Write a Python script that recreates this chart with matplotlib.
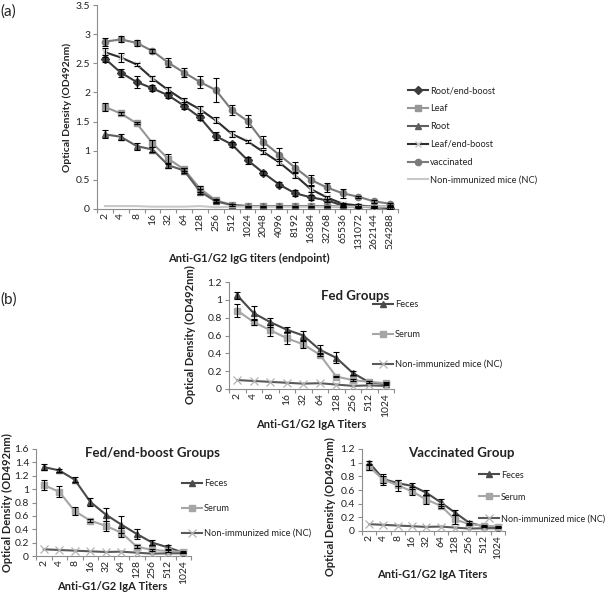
import numpy as np
import matplotlib
matplotlib.use('Agg')
import matplotlib.pyplot as plt

plt.rcParams['font.family'] = ['Lato', 'DejaVu Sans']

# ---------------- data: panel (a) ----------------
igg_titers = ['2', '4', '8', '16', '32', '64', '128', '256', '512', '1024', '2048', '4096',
              '8192', '16384', '32768', '65536', '131072', '262144', '524288']
root_end_boost = [2.58, 2.34, 2.18, 2.07, 1.95, 1.77, 1.57, 1.25, 1.11, 0.84, 0.62, 0.42,
                  0.27, 0.20, 0.15, 0.06, 0.04, 0.03, 0.02]
root_end_boost_err = [0.06, 0.07, 0.10, 0.05, 0.05, 0.06, 0.04, 0.07, 0.04, 0.06, 0.03, 0.04,
                      0.05, 0.04, 0.03, 0.02, 0.02, 0.02, 0.02]
leaf = [1.75, 1.64, 1.47, 1.13, 0.86, 0.68, 0.35, 0.15, 0.07, 0.05, 0.05, 0.05,
        0.05, 0.05, 0.05, 0.04, 0.04, 0.04, 0.04]
leaf_err = [0.07, 0.02, 0.02, 0.06, 0.08, 0.03, 0.05, 0.03, 0.01, 0.01, 0.01, 0.01,
            0.01, 0.01, 0.01, 0.01, 0.01, 0.01, 0.01]
root = [1.28, 1.24, 1.08, 1.02, 0.75, 0.66, 0.30, 0.13, 0.07, 0.05, 0.05, 0.05,
        0.05, 0.05, 0.05, 0.04, 0.04, 0.04, 0.04]
root_err = [0.07, 0.05, 0.06, 0.04, 0.04, 0.04, 0.05, 0.02, 0.01, 0.01, 0.01, 0.01,
            0.01, 0.01, 0.01, 0.01, 0.01, 0.01, 0.01]
leaf_end_boost = [2.69, 2.60, 2.48, 2.24, 2.04, 1.86, 1.71, 1.52, 1.29, 1.16, 0.98, 0.80,
                  0.58, 0.34, 0.20, 0.09, 0.06, 0.04, 0.02]
leaf_end_boost_err = [0.08, 0.07, 0.03, 0.04, 0.05, 0.05, 0.06, 0.05, 0.05, 0.03, 0.04, 0.05,
                      0.05, 0.05, 0.03, 0.02, 0.02, 0.02, 0.02]
vaccinated = [2.87, 2.91, 2.85, 2.71, 2.51, 2.34, 2.18, 2.04, 1.70, 1.51, 1.15, 0.93,
              0.71, 0.50, 0.37, 0.27, 0.21, 0.13, 0.09]
vaccinated_err = [0.07, 0.05, 0.05, 0.03, 0.08, 0.08, 0.10, 0.21, 0.09, 0.10, 0.11, 0.11,
                  0.10, 0.08, 0.07, 0.08, 0.02, 0.02, 0.02]
nc_igg = [0.05, 0.05, 0.05, 0.04, 0.04, 0.04, 0.05, 0.03, 0.04, 0.04, 0.04, 0.04,
          0.04, 0.04, 0.04, 0.04, 0.04, 0.04, 0.04]

# ---------------- data: panel (b) ----------------
iga_titers = ['2', '4', '8', '16', '32', '64', '128', '256', '512', '1024']

fed_feces = [1.05, 0.85, 0.75, 0.665, 0.60, 0.44, 0.35, 0.18, 0.075, 0.055]
fed_feces_err = [0.04, 0.08, 0.05, 0.03, 0.05, 0.05, 0.06, 0.02, 0.01, 0.01]
fed_serum = [0.88, 0.75, 0.66, 0.57, 0.50, 0.385, 0.14, 0.10, 0.08, 0.065]
fed_serum_err = [0.07, 0.03, 0.06, 0.07, 0.04, 0.02, 0.01, 0.01, 0.01, 0.01]
fed_nc = [0.10, 0.09, 0.08, 0.07, 0.06, 0.065, 0.05, 0.035, 0.04, 0.035]

feb_feces = [1.33, 1.28, 1.14, 0.81, 0.62, 0.47, 0.33, 0.20, 0.13, 0.05]
feb_feces_err = [0.05, 0.02, 0.04, 0.06, 0.10, 0.13, 0.07, 0.04, 0.03, 0.01]
feb_serum = [1.06, 0.96, 0.67, 0.53, 0.45, 0.35, 0.14, 0.09, 0.075, 0.06]
feb_serum_err = [0.07, 0.08, 0.06, 0.02, 0.07, 0.07, 0.02, 0.01, 0.01, 0.01]
feb_nc = [0.10, 0.09, 0.08, 0.07, 0.06, 0.065, 0.05, 0.035, 0.04, 0.04]

vac_feces = [1.00, 0.76, 0.70, 0.66, 0.56, 0.42, 0.27, 0.12, 0.07, 0.05]
vac_feces_err = [0.03, 0.08, 0.04, 0.04, 0.04, 0.05, 0.04, 0.02, 0.01, 0.01]
vac_serum = [0.94, 0.75, 0.67, 0.58, 0.46, 0.37, 0.17, 0.10, 0.08, 0.065]
vac_serum_err = [0.04, 0.05, 0.08, 0.06, 0.06, 0.03, 0.07, 0.01, 0.01, 0.01]
vac_nc = [0.10, 0.09, 0.08, 0.07, 0.06, 0.065, 0.05, 0.035, 0.04, 0.04]

# ---------------- layout helpers ----------------
W, H = 608, 592
fig = plt.figure(figsize=(W / 100, H / 100), dpi=100)

AX_COL = '#8c8c8c'
TXT = '#222222'
TICK_FS = 7.5
LAB_FS = 7.5

# size legend fonts from the width of the longest entry in the reference
_probe = fig.text(0, 0, 'Non-immunized mice (NC)', fontsize=10)
_w10 = _probe.get_window_extent(renderer=fig.canvas.get_renderer()).width
_probe.remove()


def leg_fs(width_px):
    return 10 * width_px / _w10


HANDLE_PX = 20


def box(x0, y0, x1, y1):
    return [x0 / W, 1 - y1 / H, (x1 - x0) / W, (y1 - y0) / H]


def fx(x):
    return x / W


def fy(y):
    return 1 - y / H


def style(ax, cats, ymax, ystep):
    n = len(cats)
    ax.set_xlim(-0.5, n - 0.5)
    ax.set_ylim(0, ymax)
    ax.set_xticks(range(n))
    ax.set_xticklabels(cats, rotation=90, fontsize=TICK_FS, color=TXT)
    ax.set_xticks(np.arange(-0.5, n, 1.0), minor=True)
    ax.tick_params(axis='x', which='major', length=0, pad=3)
    ax.tick_params(axis='x', which='minor', length=3, color=AX_COL, width=0.8)
    yt = np.round(np.arange(0, ymax + 1e-9, ystep), 3)
    ax.set_yticks(yt)
    ax.set_yticklabels([f'{v:g}' for v in yt], fontsize=TICK_FS, color=TXT)
    ax.tick_params(axis='y', length=3, color=AX_COL, width=0.8, pad=2)
    for s in ['top', 'right']:
        ax.spines[s].set_visible(False)
    for s in ['left', 'bottom']:
        ax.spines[s].set_color(AX_COL)
        ax.spines[s].set_linewidth(0.8)
    ax.set_facecolor('none')


def series(ax, y, err, color, marker, ms, label, mfc=None, mec=None, lw=1.5, mew=1.0):
    x = np.arange(len(y))
    ax.plot(x, y, color=color, lw=lw, marker=marker, ms=ms, mew=mew,
            mfc=mfc or color, mec=mec or color, label=label, zorder=3)
    if err is not None:
        ax.errorbar(x, y, yerr=err, fmt='none', ecolor='black', elinewidth=0.8,
                    capsize=2, capthick=0.8, zorder=4)


def legend(ax, x, ycenter_first, spacing_px, fs):
    fs_px = fs * 100 / 72
    ax.legend(loc='upper left', bbox_to_anchor=(fx(x), fy(ycenter_first - fs_px * 0.5)),
              bbox_transform=fig.transFigure, frameon=False, fontsize=fs,
              labelspacing=(spacing_px - fs_px) / fs_px,
              handlelength=HANDLE_PX / fs_px, handletextpad=2 / fs_px,
              borderpad=0, borderaxespad=0, labelcolor=TXT)


# ---------------- panel (a) ----------------
axa = fig.add_axes(box(97, 5, 398, 209))
style(axa, igg_titers, 3.5, 0.5)
series(axa, root_end_boost, root_end_boost_err, '#3c3c3c', 'D', 4, 'Root/end-boost')
series(axa, leaf, leaf_err, '#979797', 's', 4, 'Leaf')
series(axa, root, root_err, '#5e5e5e', '^', 5, 'Root')
series(axa, leaf_end_boost, leaf_end_boost_err, '#2e2e2e', 'x', 5, 'Leaf/end-boost',
       mec='#c4c4c4')
series(axa, vaccinated, vaccinated_err, '#7b7b7b', 'o', 4.5, 'vaccinated')
series(axa, nc_igg, None, '#c8c8c8', None, 0, 'Non-immunized mice (NC)')
legend(axa, 408, 91, 18.2, leg_fs(108))

fig.text(fx(67), fy(107), 'Optical Density (OD492nm)', rotation=90, ha='center', va='center',
         fontsize=LAB_FS, fontweight='bold', color=TXT)
fig.text(fx(249), fy(258), 'Anti-G1/G2 IgG titers (endpoint)', ha='center', va='center',
         fontsize=LAB_FS + 0.5, fontweight='bold', color=TXT)
fig.text(fx(0), fy(12), '(a)', ha='left', va='center', fontsize=11, color=TXT)
fig.text(fx(0), fy(300), '(b)', ha='left', va='center', fontsize=11, color=TXT)


# ---------------- panel (b) ----------------
def iga_panel(rect, ymax, feces, feces_err, serum, serum_err, nc, title, title_xy,
              leg_x, leg_first, leg_sp, leg_w, ylab_xy, xlab_xy):
    ax = fig.add_axes(box(*rect))
    style(ax, iga_titers, ymax, 0.2)
    series(ax, feces, feces_err, '#4a4a4a', '^', 5, 'Feces')
    series(ax, serum, serum_err, '#a6a6a6', 's', 5, 'Serum')
    series(ax, nc, None, '#5a5a5a', 'x', 5.5, 'Non-immunized mice (NC)', mec='#b4b4b4',
           mew=0.9)
    legend(ax, leg_x, leg_first, leg_sp, leg_fs(leg_w))
    fig.text(fx(title_xy[0]), fy(title_xy[1]), title, ha='center', va='center',
             fontsize=9.5, fontweight='bold', color=TXT)
    fig.text(fx(ylab_xy[0]), fy(ylab_xy[1]), 'Optical Density (OD492nm)', rotation=90,
             ha='center', va='center', fontsize=LAB_FS + 0.5, fontweight='bold', color=TXT)
    fig.text(fx(xlab_xy[0]), fy(xlab_xy[1]), 'Anti-G1/G2 IgA Titers', ha='center',
             va='center', fontsize=LAB_FS + 0.5, fontweight='bold', color=TXT)
    return ax


iga_panel((229, 282, 394, 389), 1.2, fed_feces, fed_feces_err, fed_serum, fed_serum_err,
          fed_nc, 'Fed Groups', (355, 296), 373, 305, 30, 107, (190, 335), (311, 424))
iga_panel((36, 449, 191, 556), 1.6, feb_feces, feb_feces_err, feb_serum, feb_serum_err,
          feb_nc, 'Fed/end-boost Groups', (152, 453), 182, 484, 25, 107, (7, 503), (112, 587))
iga_panel((362, 449, 505, 531), 1.2, vac_feces, vac_feces_err, vac_serum, vac_serum_err,
          vac_nc, 'Vaccinated Group', (461, 453), 479, 475, 22, 104, (330, 507), (432, 575))

fig.savefig('out.png', dpi=100, facecolor='white')
